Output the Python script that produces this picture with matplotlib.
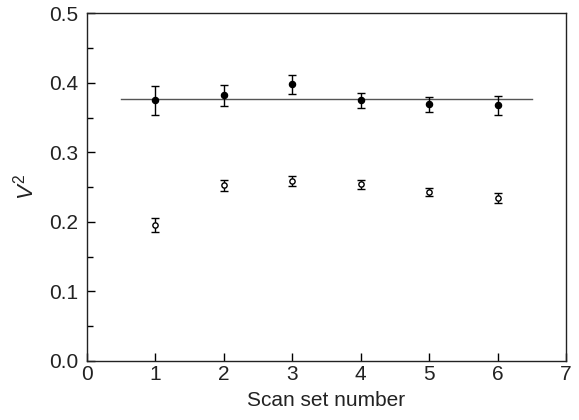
import matplotlib
matplotlib.use("Agg")
import matplotlib.pyplot as plt
from matplotlib.ticker import MultipleLocator

plt.rcParams['font.family'] = ['Liberation Sans', 'DejaVu Sans']
plt.rcParams['mathtext.fontset'] = 'custom'
plt.rcParams['mathtext.rm'] = 'Liberation Sans'
plt.rcParams['mathtext.it'] = 'Liberation Sans:italic'

scan = [1, 2, 3, 4, 5, 6]
calibrated = [0.375, 0.382, 0.398, 0.375, 0.369, 0.368]
calibrated_err = [0.021, 0.015, 0.014, 0.011, 0.0115, 0.0135]
raw = [0.196, 0.253, 0.259, 0.254, 0.2435, 0.235]
raw_err = [0.010, 0.008, 0.007, 0.0065, 0.006, 0.007]
fit_value = 0.377
fit_range = [0.5, 6.5]

fig = plt.figure(figsize=(5.79, 4.2), dpi=100)
ax = fig.add_axes([0.150, 0.1405, 0.8275, 0.8275])

ax.plot(fit_range, [fit_value, fit_value], color='#555555', lw=1.0, zorder=1)
ax.errorbar(scan, calibrated, yerr=calibrated_err, fmt='o', color='black',
            ms=4.4, capsize=2.7, elinewidth=1.0, capthick=1.0, zorder=3)
ax.errorbar(scan, raw, yerr=raw_err, fmt='o', color='black', mfc='white',
            mec='black', mew=1.0, ms=3.8, capsize=2.7, elinewidth=1.0,
            capthick=1.0, zorder=3)

ax.set_xlim(0, 7)
ax.set_ylim(0, 0.5)
ax.xaxis.set_major_locator(MultipleLocator(1))
ax.yaxis.set_major_locator(MultipleLocator(0.1))
ax.yaxis.set_minor_locator(MultipleLocator(0.05))
ax.yaxis.set_major_formatter(plt.FuncFormatter(lambda v, p: f"{v:.1f}"))
ax.tick_params(axis='both', which='major', direction='in', length=6, width=1,
               labelsize=15, top=False, right=False, labelcolor='#222222')
ax.tick_params(axis='y', which='minor', direction='in', length=4, width=1, right=False)
ax.tick_params(axis='x', pad=3)
ax.tick_params(axis='y', pad=6)
for s in ax.spines.values():
    s.set_linewidth(1.0)
    s.set_color('#222222')

ax.set_xlabel('Scan set number', fontsize=15, labelpad=5, color='#222222')
ax.set_ylabel(r'$\mathit{V}^2$', fontsize=16, labelpad=8, color='#222222')

fig.savefig('out.png', dpi=100)
